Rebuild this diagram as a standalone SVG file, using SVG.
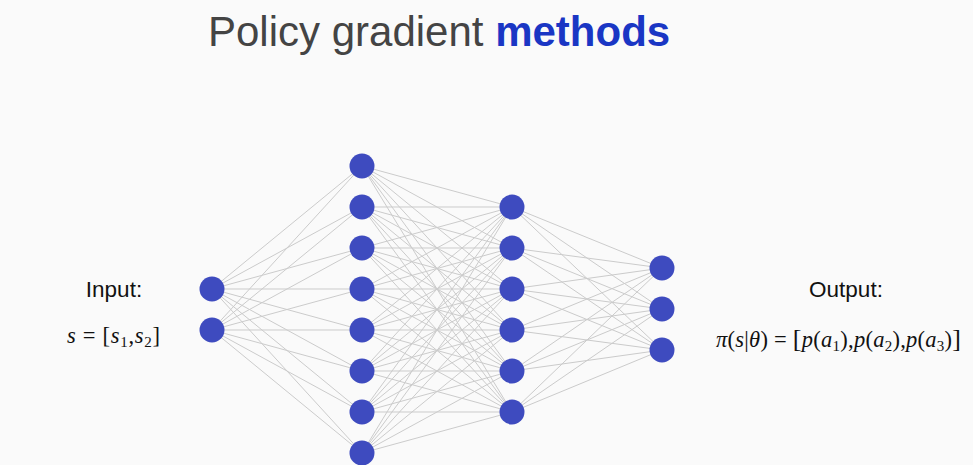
<svg xmlns="http://www.w3.org/2000/svg" width="973" height="465" viewBox="0 0 973 465">
<style>
.bg{fill:#fafafa}
.e{stroke:#cbcbcb;stroke-width:1;fill:none}
.n{fill:#3e4bbf}
.t{font-family:"Liberation Sans",Arial,sans-serif}
.m{font-family:"Liberation Serif","Times New Roman",serif;fill:#111}
.i{font-style:italic}
</style>
<rect class="bg" x="0" y="0" width="973" height="465"/>
<text class="t" x="208" y="46" font-size="42"><tspan fill="#444444">Policy gradient </tspan><tspan fill="#1a36c4" font-weight="bold">methods</tspan></text>
<g id="connectors">
<line class="e" x1="212" y1="289" x2="362" y2="166"/><line class="e" x1="212" y1="289" x2="362" y2="207"/><line class="e" x1="212" y1="289" x2="362" y2="248"/><line class="e" x1="212" y1="289" x2="362" y2="289"/><line class="e" x1="212" y1="289" x2="362" y2="330"/><line class="e" x1="212" y1="289" x2="362" y2="371"/><line class="e" x1="212" y1="289" x2="362" y2="412"/><line class="e" x1="212" y1="289" x2="362" y2="453"/>
<line class="e" x1="212" y1="330" x2="362" y2="166"/><line class="e" x1="212" y1="330" x2="362" y2="207"/><line class="e" x1="212" y1="330" x2="362" y2="248"/><line class="e" x1="212" y1="330" x2="362" y2="289"/><line class="e" x1="212" y1="330" x2="362" y2="330"/><line class="e" x1="212" y1="330" x2="362" y2="371"/><line class="e" x1="212" y1="330" x2="362" y2="412"/><line class="e" x1="212" y1="330" x2="362" y2="453"/>
<line class="e" x1="362" y1="166" x2="512" y2="207"/><line class="e" x1="362" y1="166" x2="512" y2="248"/><line class="e" x1="362" y1="166" x2="512" y2="289"/><line class="e" x1="362" y1="166" x2="512" y2="330"/><line class="e" x1="362" y1="166" x2="512" y2="371"/><line class="e" x1="362" y1="166" x2="512" y2="412"/>
<line class="e" x1="362" y1="207" x2="512" y2="207"/><line class="e" x1="362" y1="207" x2="512" y2="248"/><line class="e" x1="362" y1="207" x2="512" y2="289"/><line class="e" x1="362" y1="207" x2="512" y2="330"/><line class="e" x1="362" y1="207" x2="512" y2="371"/><line class="e" x1="362" y1="207" x2="512" y2="412"/>
<line class="e" x1="362" y1="248" x2="512" y2="207"/><line class="e" x1="362" y1="248" x2="512" y2="248"/><line class="e" x1="362" y1="248" x2="512" y2="289"/><line class="e" x1="362" y1="248" x2="512" y2="330"/><line class="e" x1="362" y1="248" x2="512" y2="371"/><line class="e" x1="362" y1="248" x2="512" y2="412"/>
<line class="e" x1="362" y1="289" x2="512" y2="207"/><line class="e" x1="362" y1="289" x2="512" y2="248"/><line class="e" x1="362" y1="289" x2="512" y2="289"/><line class="e" x1="362" y1="289" x2="512" y2="330"/><line class="e" x1="362" y1="289" x2="512" y2="371"/><line class="e" x1="362" y1="289" x2="512" y2="412"/>
<line class="e" x1="362" y1="330" x2="512" y2="207"/><line class="e" x1="362" y1="330" x2="512" y2="248"/><line class="e" x1="362" y1="330" x2="512" y2="289"/><line class="e" x1="362" y1="330" x2="512" y2="330"/><line class="e" x1="362" y1="330" x2="512" y2="371"/><line class="e" x1="362" y1="330" x2="512" y2="412"/>
<line class="e" x1="362" y1="371" x2="512" y2="207"/><line class="e" x1="362" y1="371" x2="512" y2="248"/><line class="e" x1="362" y1="371" x2="512" y2="289"/><line class="e" x1="362" y1="371" x2="512" y2="330"/><line class="e" x1="362" y1="371" x2="512" y2="371"/><line class="e" x1="362" y1="371" x2="512" y2="412"/>
<line class="e" x1="362" y1="412" x2="512" y2="207"/><line class="e" x1="362" y1="412" x2="512" y2="248"/><line class="e" x1="362" y1="412" x2="512" y2="289"/><line class="e" x1="362" y1="412" x2="512" y2="330"/><line class="e" x1="362" y1="412" x2="512" y2="371"/><line class="e" x1="362" y1="412" x2="512" y2="412"/>
<line class="e" x1="362" y1="453" x2="512" y2="207"/><line class="e" x1="362" y1="453" x2="512" y2="248"/><line class="e" x1="362" y1="453" x2="512" y2="289"/><line class="e" x1="362" y1="453" x2="512" y2="330"/><line class="e" x1="362" y1="453" x2="512" y2="371"/><line class="e" x1="362" y1="453" x2="512" y2="412"/>
<line class="e" x1="512" y1="207" x2="662" y2="268"/><line class="e" x1="512" y1="207" x2="662" y2="309"/><line class="e" x1="512" y1="207" x2="662" y2="350"/>
<line class="e" x1="512" y1="248" x2="662" y2="268"/><line class="e" x1="512" y1="248" x2="662" y2="309"/><line class="e" x1="512" y1="248" x2="662" y2="350"/>
<line class="e" x1="512" y1="289" x2="662" y2="268"/><line class="e" x1="512" y1="289" x2="662" y2="309"/><line class="e" x1="512" y1="289" x2="662" y2="350"/>
<line class="e" x1="512" y1="330" x2="662" y2="268"/><line class="e" x1="512" y1="330" x2="662" y2="309"/><line class="e" x1="512" y1="330" x2="662" y2="350"/>
<line class="e" x1="512" y1="371" x2="662" y2="268"/><line class="e" x1="512" y1="371" x2="662" y2="309"/><line class="e" x1="512" y1="371" x2="662" y2="350"/>
<line class="e" x1="512" y1="412" x2="662" y2="268"/><line class="e" x1="512" y1="412" x2="662" y2="309"/><line class="e" x1="512" y1="412" x2="662" y2="350"/>
</g>
<g id="in1"><circle class="n" cx="212" cy="289" r="12.5"/></g>
<g id="in2"><circle class="n" cx="212" cy="330" r="12.5"/></g>
<g id="h1_1"><circle class="n" cx="362" cy="166" r="12.5"/></g>
<g id="h1_2"><circle class="n" cx="362" cy="207" r="12.5"/></g>
<g id="h1_3"><circle class="n" cx="362" cy="248" r="12.5"/></g>
<g id="h1_4"><circle class="n" cx="362" cy="289" r="12.5"/></g>
<g id="h1_5"><circle class="n" cx="362" cy="330" r="12.5"/></g>
<g id="h1_6"><circle class="n" cx="362" cy="371" r="12.5"/></g>
<g id="h1_7"><circle class="n" cx="362" cy="412" r="12.5"/></g>
<g id="h1_8"><circle class="n" cx="362" cy="453" r="12.5"/></g>
<g id="h2_1"><circle class="n" cx="512" cy="207" r="12.5"/></g>
<g id="h2_2"><circle class="n" cx="512" cy="248" r="12.5"/></g>
<g id="h2_3"><circle class="n" cx="512" cy="289" r="12.5"/></g>
<g id="h2_4"><circle class="n" cx="512" cy="330" r="12.5"/></g>
<g id="h2_5"><circle class="n" cx="512" cy="371" r="12.5"/></g>
<g id="h2_6"><circle class="n" cx="512" cy="412" r="12.5"/></g>
<g id="out1"><circle class="n" cx="662" cy="268" r="12.5"/></g>
<g id="out2"><circle class="n" cx="662" cy="309" r="12.5"/></g>
<g id="out3"><circle class="n" cx="662" cy="350" r="12.5"/></g>
<g id="input-label">
<text class="t" x="114" y="297" font-size="22.5" text-anchor="middle" fill="#111">Input:</text>
<text class="m" x="67" y="343" font-size="22.5" textLength="93" lengthAdjust="spacing"><tspan class="i">s</tspan> = [<tspan class="i">s</tspan><tspan font-size="15" dy="4">1</tspan><tspan dy="-4">,</tspan><tspan class="i">s</tspan><tspan font-size="15" dy="4">2</tspan><tspan dy="-4">]</tspan></text>
</g>
<g id="output-label">
<text class="t" x="846" y="297" font-size="22.5" text-anchor="middle" fill="#111">Output:</text>
<text class="m" x="716" y="347" font-size="22.5" textLength="245" lengthAdjust="spacing"><tspan class="i">π</tspan>(<tspan class="i">s</tspan>|<tspan class="i">θ</tspan>) = <tspan font-size="26">[</tspan><tspan class="i">p</tspan>(<tspan class="i">a</tspan><tspan font-size="15" dy="4">1</tspan><tspan dy="-4">),</tspan><tspan class="i">p</tspan>(<tspan class="i">a</tspan><tspan font-size="15" dy="4">2</tspan><tspan dy="-4">),</tspan><tspan class="i">p</tspan>(<tspan class="i">a</tspan><tspan font-size="15" dy="4">3</tspan><tspan dy="-4">)</tspan><tspan font-size="26">]</tspan></text>
</g>
</svg>
